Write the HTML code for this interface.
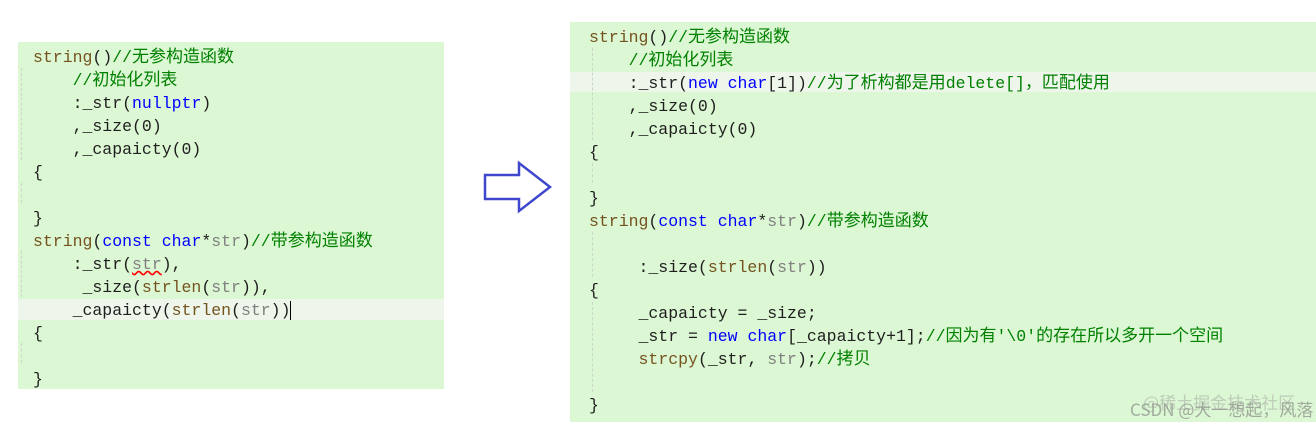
<!DOCTYPE html>
<html><head><meta charset="utf-8"><style>
body{margin:0;width:1316px;height:432px;background:#fff;position:relative;overflow:hidden}
.p{position:absolute;background:#dcf7d3}
.l{position:absolute;font-family:"Liberation Mono","Noto Sans CJK SC",monospace;font-size:16.5px;color:#1e1e1e}
.l div{height:23px;line-height:23px;white-space:pre;overflow:visible}
.c{color:#008000}.k{color:#0000ff}.f{color:#74531f}.g{color:#808080}
.z{font-family:"Noto Sans CJK SC",sans-serif;font-size:17px;line-height:1}
.hl{position:absolute;background:#eef6ec}
.gd{position:absolute;width:0;border-left:1px dashed #c8d8c4}
</style></head><body>
<div class="p" style="left:18px;top:42px;width:426px;height:347px"></div>
<div class="hl" style="left:18px;top:299px;width:426px;height:21px"></div>
<div class="gd" style="left:21px;top:68px;height:92px"></div>
<div class="gd" style="left:21px;top:183px;height:20px"></div>
<div class="gd" style="left:21px;top:251px;height:46px"></div>
<div class="gd" style="left:21px;top:343px;height:20px"></div>
<div class="p" style="left:570px;top:22px;width:746px;height:400px"></div>
<div class="hl" style="left:570px;top:72px;width:746px;height:20px"></div>
<div class="gd" style="left:592px;top:48px;height:92px"></div>
<div class="gd" style="left:592px;top:163px;height:20px"></div>
<div class="gd" style="left:592px;top:232px;height:45px"></div>
<div class="gd" style="left:592px;top:302px;height:90px"></div>

<div class="l" style="left:33px;top:46px">
<div><span class="f">string</span>()<span class="c">//<span class="z">无参构造函数</span></span></div>
<div>    <span class="c">//<span class="z">初始化列表</span></span></div>
<div>    :_str(<span class="k">nullptr</span>)</div>
<div>    ,_size(0)</div>
<div>    ,_capaicty(0)</div>
<div>{</div>
<div> </div>
<div>}</div>
<div><span class="f">string</span>(<span class="k">const</span> <span class="k">char</span>*<span class="g">str</span>)<span class="c">//<span class="z">带参构造函数</span></span></div>
<div>    :_str(<span class="g" style="text-decoration:underline wavy red">str</span>),</div>
<div>     _size(<span class="f">strlen</span>(<span class="g">str</span>)),</div>
<div>    _capaicty(<span class="f">strlen</span>(<span class="g">str</span>))<span style="border-left:1.5px solid #000"></span></div>
<div>{</div>
<div> </div>
<div>}</div>
</div>

<svg style="position:absolute;left:0;top:0" width="1316" height="432"><polygon points="485,175 519,175 519,163 550,187 519,211 519,199 485,199" fill="#fff" stroke="#3f48cc" stroke-width="2.5"/></svg>

<div class="l" style="left:589px;top:26px">
<div><span class="f">string</span>()<span class="c">//<span class="z">无参构造函数</span></span></div>
<div>    <span class="c">//<span class="z">初始化列表</span></span></div>
<div>    :_str(<span class="k">new</span> <span class="k">char</span>[1])<span class="c">//<span class="z">为了析构都是用</span>delete[]<span class="z">，匹配使用</span></span></div>
<div>    ,_size(0)</div>
<div>    ,_capaicty(0)</div>
<div>{</div>
<div> </div>
<div>}</div>
<div><span class="f">string</span>(<span class="k">const</span> <span class="k">char</span>*<span class="g">str</span>)<span class="c">//<span class="z">带参构造函数</span></span></div>
<div> </div>
<div>     :_size(<span class="f">strlen</span>(<span class="g">str</span>))</div>
<div>{</div>
<div>     _capaicty = _size;</div>
<div>     _str = <span class="k">new</span> <span class="k">char</span>[_capaicty+1];<span class="c">//<span class="z">因为有</span>'\0'<span class="z">的存在所以多开一个空间</span></span></div>
<div>     <span class="f">strcpy</span>(_str, <span class="g">str</span>);<span class="c">//<span class="z">拷贝</span></span></div>
<div> </div>
<div>}</div>
</div>
<div style="position:absolute;left:1130px;top:397px;font-family:'Noto Sans CJK SC',sans-serif;font-size:17px;line-height:23px;color:rgba(120,120,120,.6);white-space:nowrap">CSDN @大一想起，风落</div>
<div style="position:absolute;left:1143px;top:390px;font-family:'Noto Sans CJK SC',sans-serif;font-size:17px;line-height:23px;color:rgba(150,150,150,.45);white-space:nowrap">@稀土掘金技术社区</div>
</body></html>
